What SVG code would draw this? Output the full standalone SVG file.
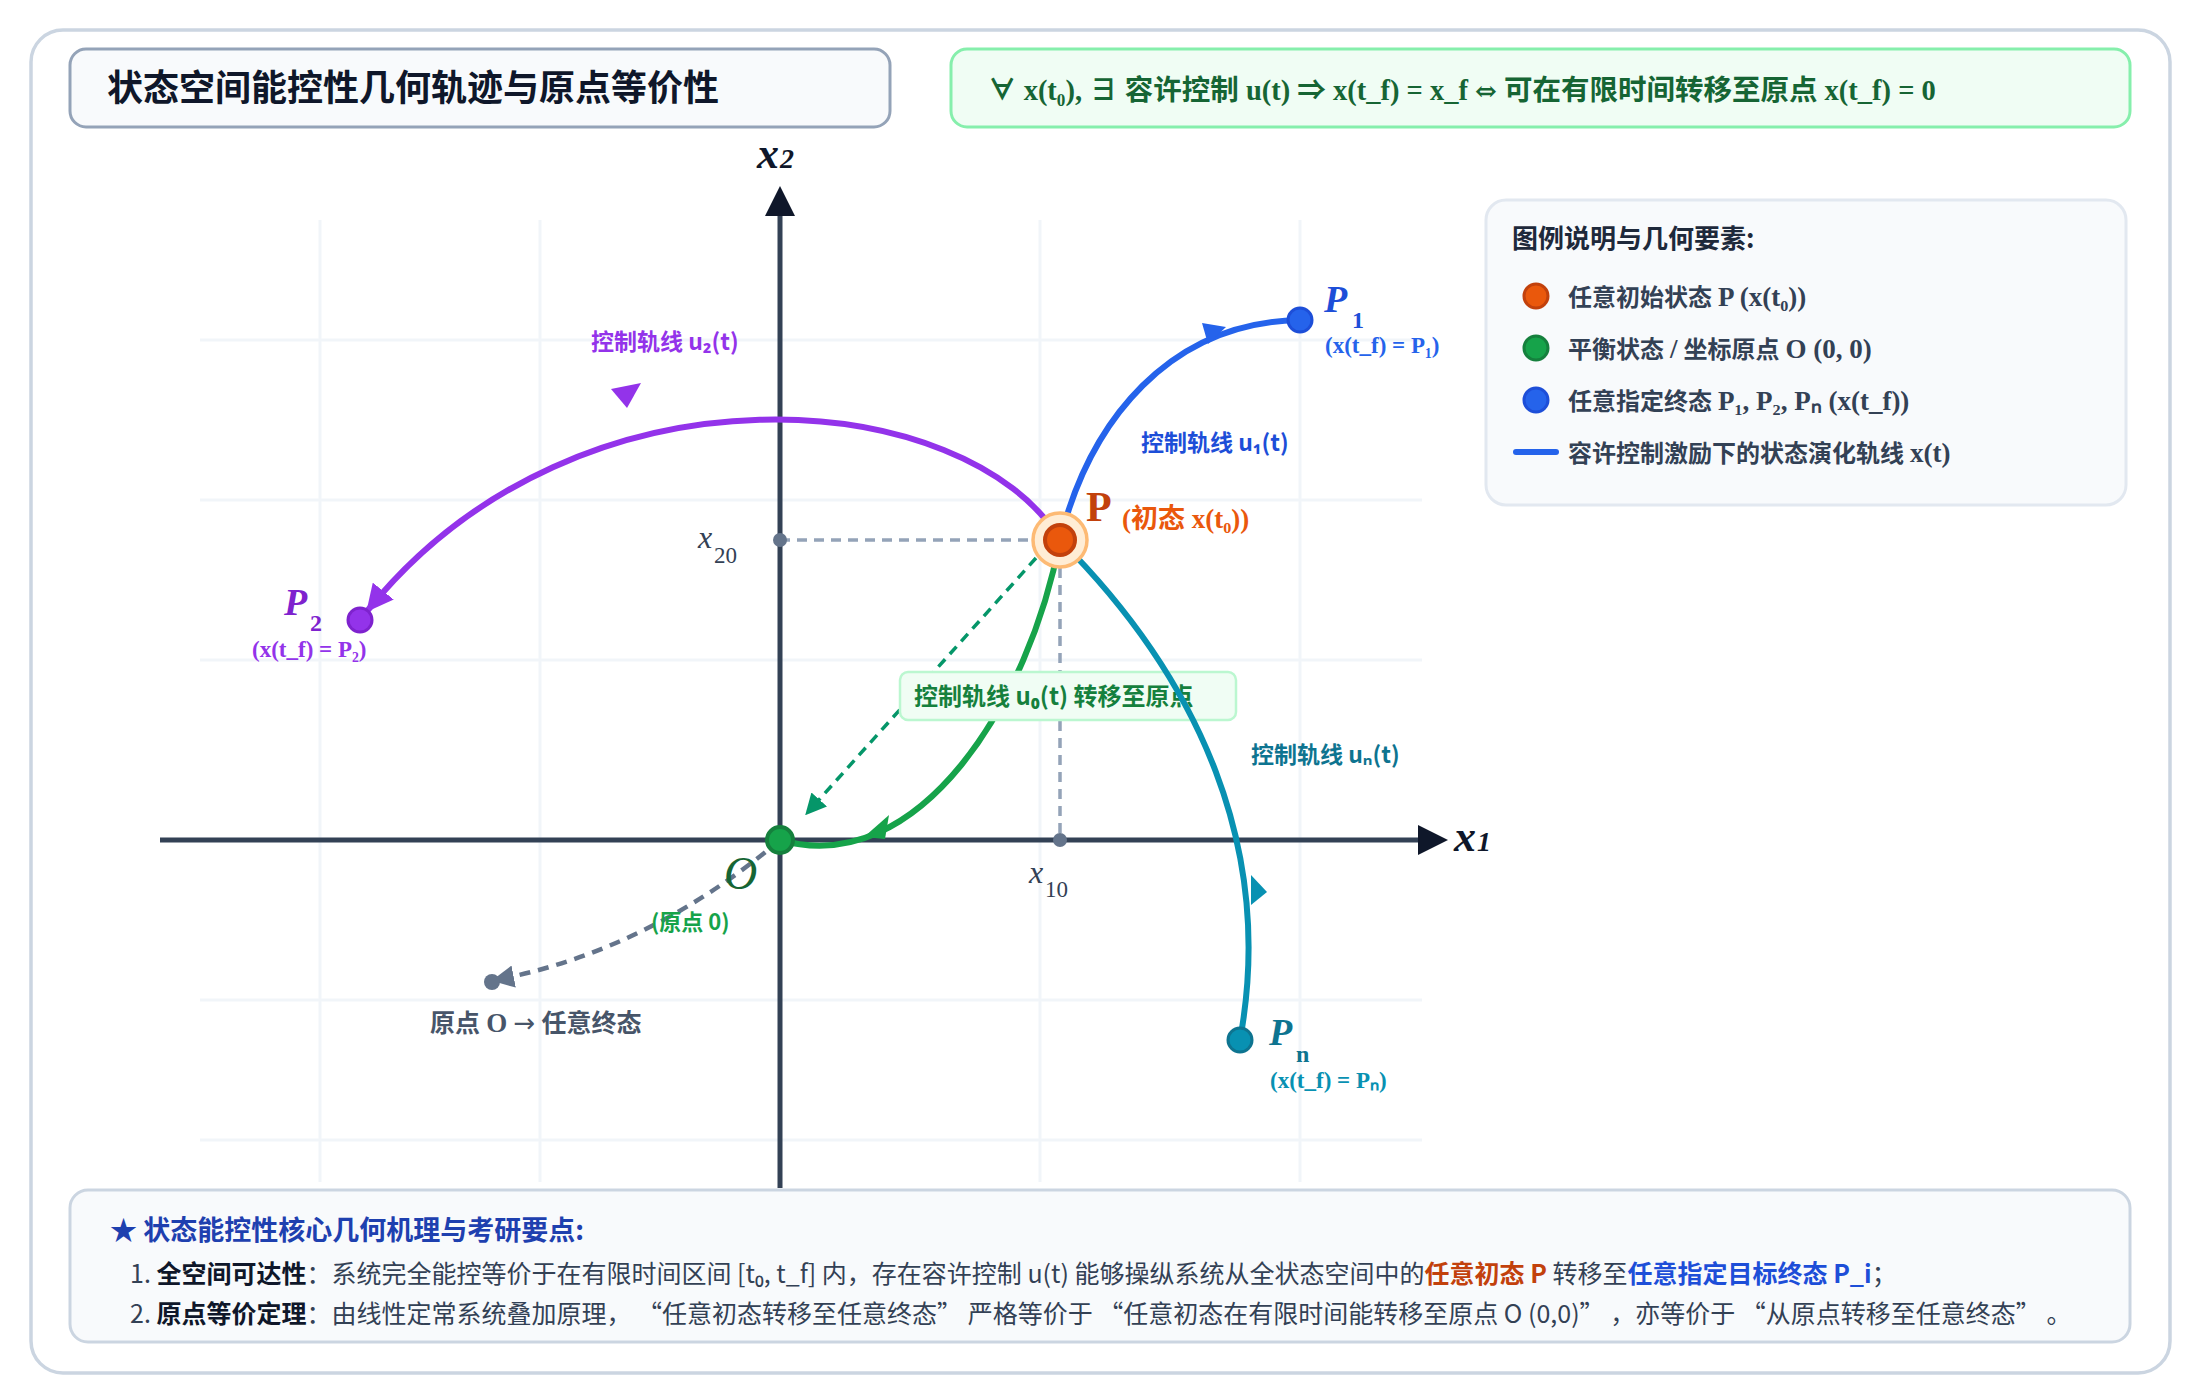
<svg xmlns="http://www.w3.org/2000/svg" width="2200" height="1400" viewBox="0 0 2200 1400">
<defs>
<style>
.sans{font-family:"Noto Sans CJK SC","Noto Sans",sans-serif}
.mix{font-family:"Liberation Serif","Noto Sans CJK SC",serif}
.grid{stroke:#f1f5f9;stroke-width:3;fill:none}
.axis{stroke:#334155;stroke-width:5;fill:none}
.guide{stroke:#94a3b8;stroke-width:3.5;stroke-dasharray:10 7;fill:none}
.traj{fill:none;stroke-width:6;stroke-linecap:round}
.b{font-weight:700}
.it{font-style:italic}
.lat{font-size:27px}
</style>
<marker id="axArrow" viewBox="0 0 10 10" refX="2" refY="5" markerWidth="6" markerHeight="6" markerUnits="strokeWidth" orient="auto"><path d="M0,0 L10,5 L0,10 z" fill="#0f172a"/></marker>
<marker id="grayArrow" viewBox="0 0 10 10" refX="8" refY="5" markerWidth="5" markerHeight="5" markerUnits="strokeWidth" orient="auto"><path d="M0,0 L10,5 L0,10 z" fill="#64748b"/></marker>
<marker id="greenArrow" viewBox="0 0 10 10" refX="8" refY="5" markerWidth="6" markerHeight="6" markerUnits="strokeWidth" orient="auto"><path d="M0,0 L10,5 L0,10 z" fill="#059669"/></marker>
<marker id="purpleArrow" viewBox="0 0 10 10" refX="9" refY="5" markerWidth="4.5" markerHeight="4.5" markerUnits="strokeWidth" orient="auto"><path d="M0,0 L10,5 L0,10 z" fill="#9333ea"/></marker>
</defs>

<rect x="0" y="0" width="2200" height="1400" fill="#ffffff"/>
<rect id="frame" x="31" y="30" width="2139" height="1343" rx="32" fill="#ffffff" stroke="#cbd5e1" stroke-width="3.5"/>

<g id="title">
<rect x="70" y="49" width="820" height="78" rx="16" fill="#f8fafc" stroke="#94a3b8" stroke-width="3"/>
<text x="107" y="101" class="sans b" font-size="36" fill="#0f172a">状态空间能控性几何轨迹与原点等价性</text>
</g>

<g id="formula">
<rect x="951" y="49" width="1179" height="78" rx="16" fill="#f0fdf4" stroke="#86efac" stroke-width="3"/>
<text x="988" y="100" class="mix b" font-size="28.5" fill="#166534">∀ x(t₀), ∃ 容许控制 u(t) ⇒ x(t_f) = x_f <tspan font-family="DejaVu Serif" font-size="26">⇔</tspan> 可在有限时间转移至原点 x(t_f) = 0</text>
</g>

<g id="legend">
<rect x="1486" y="200" width="640" height="305" rx="20" fill="#f8fafc" stroke="#e2e8f0" stroke-width="3"/>
<text x="1512" y="248" class="sans b" font-size="26" fill="#1e293b">图例说明与几何要素:</text>
<circle cx="1536" cy="296" r="12" fill="#ea580c" stroke="#c2410c" stroke-width="3"/>
<text x="1568" y="306" class="mix b" font-size="24" fill="#334155">任意初始状态 <tspan class="lat">P (x(t₀))</tspan></text>
<circle cx="1536" cy="348" r="12" fill="#16a34a" stroke="#15803d" stroke-width="3"/>
<text x="1568" y="358" class="mix b" font-size="24" fill="#334155">平衡状态 <tspan class="lat">/</tspan> 坐标原点 <tspan class="lat">O (0, 0)</tspan></text>
<circle cx="1536" cy="400" r="12" fill="#2563eb" stroke="#1d4ed8" stroke-width="3"/>
<text x="1568" y="410" class="mix b" font-size="24" fill="#334155">任意指定终态 <tspan class="lat">P₁, P₂, Pₙ (x(t_f))</tspan></text>
<line x1="1516" y1="452" x2="1556" y2="452" stroke="#2563eb" stroke-width="6" stroke-linecap="round"/>
<text x="1568" y="462" class="mix b" font-size="24" fill="#334155">容许控制激励下的状态演化轨线 <tspan class="lat">x(t)</tspan></text>
</g>

<g id="grid">
<line class="grid" x1="320" y1="220" x2="320" y2="1182"/>
<line class="grid" x1="540" y1="220" x2="540" y2="1182"/>
<line class="grid" x1="1040" y1="220" x2="1040" y2="1182"/>
<line class="grid" x1="1300" y1="220" x2="1300" y2="1182"/>
<line class="grid" x1="200" y1="340" x2="1422" y2="340"/>
<line class="grid" x1="200" y1="500" x2="1422" y2="500"/>
<line class="grid" x1="200" y1="660" x2="1422" y2="660"/>
<line class="grid" x1="200" y1="1000" x2="1422" y2="1000"/>
<line class="grid" x1="200" y1="1140" x2="1422" y2="1140"/>
</g>

<g id="axes">
<line class="axis" x1="160" y1="840" x2="1424" y2="840" marker-end="url(#axArrow)"/>
<line class="axis" x1="780" y1="1188" x2="780" y2="210" stroke-width="4.5" marker-end="url(#axArrow)"/>
<text x="757" y="168" class="mix b it" font-size="44" fill="#0f172a">x<tspan font-size="28" dx="1">2</tspan></text>
<text x="1454" y="851" class="mix b it" font-size="44" fill="#0f172a">x<tspan font-size="28" dx="1">1</tspan></text>
</g>

<g id="guides">
<line class="guide" x1="780" y1="540" x2="1040" y2="540"/>
<line class="guide" x1="1060" y1="568" x2="1060" y2="834"/>
<circle cx="780" cy="540" r="7" fill="#64748b"/>
<circle cx="1060" cy="840" r="7" fill="#64748b"/>
<text x="698" y="548" class="mix it" font-size="32" fill="#334155">x</text>
<text x="714" y="563" class="mix" font-size="23" fill="#334155">20</text>
<text x="1029" y="883" class="mix it" font-size="32" fill="#334155">x</text>
<text x="1045" y="897" class="mix" font-size="23" fill="#334155">10</text>
</g>

<g id="connectors">
<path d="M780,840 Q650,950 496,980" fill="none" stroke="#64748b" stroke-width="4.5" stroke-dasharray="11 8" marker-end="url(#grayArrow)"/>
<path class="traj" d="M1060,540 C970,388 580,348 368,610" stroke="#9333ea" marker-end="url(#purpleArrow)"/>
<polygon points="611,389 641,383 627,408" fill="#9333ea"/>
<path class="traj" d="M1060,540 C1090,420 1170,322 1300,320" stroke="#2563eb"/>
<polygon points="1226,327 1202,323 1208,344" fill="#2563eb"/>
<path class="traj" d="M1060,540 C1030,700 920,880 780,840" stroke="#16a34a"/>
<polygon points="889,815 885,839 864,837" fill="#16a34a"/>
<line x1="1036" y1="558" x2="808" y2="812" stroke="#059669" stroke-width="3.5" stroke-dasharray="10 7" marker-end="url(#greenArrow)"/>
</g>

<g id="u0-label">
<rect x="900" y="672" width="336" height="48" rx="8" fill="#f0fdf4" stroke="#bbf7d0" stroke-width="2.5"/>
<text x="914" y="705" class="sans b" font-size="24" fill="#15803d">控制轨线 u₀(t) 转移至原点</text>
</g>

<g id="connectors-over">
<path class="traj" d="M1060,540 C1200,680 1275,850 1240,1040" stroke="#0891b2"/>
<polygon points="1251,875 1267,892 1251,905" fill="#0891b2"/>
</g>

<g id="node-O">
<circle cx="780" cy="840" r="13" fill="#16a34a" stroke="#15803d" stroke-width="4"/>
<text x="724" y="889" class="mix it" font-size="46" fill="#166534">O</text>
<text x="651" y="930" class="sans b" font-size="22" fill="#16a34a">(原点 0)</text>
</g>

<g id="node-end-gray">
<circle cx="492" cy="982" r="8" fill="#64748b"/>
<text x="430" y="1032" class="mix b" font-size="25" fill="#475569">原点 <tspan font-size="27">O</tspan> <tspan font-family="DejaVu Sans" font-weight="400" font-size="26">→</tspan> 任意终态</text>
</g>

<g id="node-P">
<circle cx="1060" cy="540" r="27" fill="#ffedd5" stroke="#fdba74" stroke-width="3.5"/>
<circle cx="1060" cy="540" r="15" fill="#ea580c" stroke="#c2410c" stroke-width="4"/>
<text x="1086" y="521" class="mix b" font-size="42" fill="#c2410c">P</text>
<text x="1122" y="528" class="mix b" font-size="27" fill="#ea580c">(初态 x(t₀))</text>
</g>

<g id="node-P1">
<circle cx="1300" cy="320" r="12" fill="#2563eb" stroke="#1d4ed8" stroke-width="3"/>
<text x="1324" y="312" class="mix b it" font-size="38" fill="#1d4ed8">P</text>
<text x="1352" y="328" class="mix b" font-size="24" fill="#1d4ed8">1</text>
<text x="1325" y="353" class="mix b" font-size="23" fill="#2563eb">(x(t_f) = P₁)</text>
</g>

<g id="node-P2">
<circle cx="360" cy="620" r="12" fill="#9333ea" stroke="#7e22ce" stroke-width="3"/>
<text x="284" y="615" class="mix b it" font-size="38" fill="#7e22ce">P</text>
<text x="310" y="631" class="mix b" font-size="24" fill="#7e22ce">2</text>
<text x="252" y="657" class="mix b" font-size="23" fill="#9333ea">(x(t_f) = P₂)</text>
</g>

<g id="node-Pn">
<circle cx="1240" cy="1040" r="12" fill="#0891b2" stroke="#0e7490" stroke-width="3"/>
<text x="1269" y="1045" class="mix b it" font-size="38" fill="#0e7490">P</text>
<text x="1296" y="1062" class="mix b" font-size="24" fill="#0e7490">n</text>
<text x="1270" y="1088" class="mix b" font-size="23" fill="#0891b2">(x(t_f) = Pₙ)</text>
</g>

<g id="traj-labels">
<text x="591" y="350" class="sans b" font-size="23" fill="#9333ea">控制轨线 u₂(t)</text>
<text x="1141" y="451" class="sans b" font-size="23" fill="#1d4ed8">控制轨线 u₁(t)</text>
<text x="1251" y="763" class="sans b" font-size="23" fill="#0e7490">控制轨线 uₙ(t)</text>
</g>

<g id="notes">
<rect x="70" y="1190" width="2060" height="152" rx="18" fill="#f8fafc" stroke="#cbd5e1" stroke-width="3"/>
<text x="110" y="1240" class="sans b" font-size="27" fill="#1e40af">★ 状态能控性核心几何机理与考研要点:</text>
<text x="130" y="1283" class="sans" font-size="25" fill="#334155">1. <tspan font-weight="700" fill="#0f172a">全空间可达性</tspan>：系统完全能控等价于在有限时间区间 [t₀, t_f] 内，存在容许控制 u(t) 能够操纵系统从全状态空间中的<tspan font-weight="700" fill="#c2410c">任意初态 P</tspan> 转移至<tspan font-weight="700" fill="#1d4ed8">任意指定目标终态 P_i</tspan>；</text>
<text x="130" y="1323" class="sans" font-size="25" fill="#334155">2. <tspan font-weight="700" fill="#0f172a">原点等价定理</tspan>：由线性定常系统叠加原理， “任意初态转移至任意终态” 严格等价于 “任意初态在有限时间能转移至原点 O (0,0)” ，亦等价于 “从原点转移至任意终态” 。</text>
</g>
</svg>
